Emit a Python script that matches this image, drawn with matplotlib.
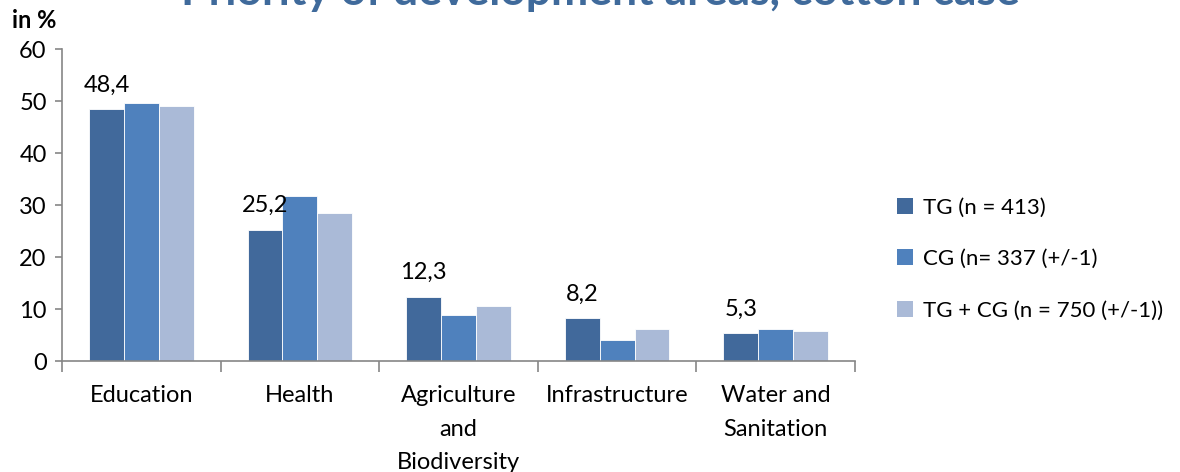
import matplotlib
matplotlib.use("Agg")
import matplotlib.pyplot as plt
import numpy as np
from matplotlib.patches import Patch

plt.rcParams['font.family'] = ['Lato', 'DejaVu Sans']

categories = ["Education", "Health", "Agriculture\nand\nBiodiversity", "Infrastructure", "Water and\nSanitation"]
series_names = ["TG (n = 413)", "CG (n= 337 (+/-1)", "TG + CG (n = 750 (+/-1))"]
tg = [48.4, 25.2, 12.3, 8.2, 5.3]
cg = [49.6, 31.7, 8.8, 4.0, 6.1]
tg_cg = [49.0, 28.5, 10.6, 6.1, 5.8]
tg_labels = ["48,4", "25,2", "12,3", "8,2", "5,3"]
yticks = [0, 10, 20, 30, 40, 50, 60]
colors = ["#41699B", "#4F81BD", "#AABAD7"]

fig = plt.figure(figsize=(11.8, 4.72), dpi=100)
ax = fig.add_axes([62/1180, 1-361/472, (855-62)/1180, (361-49)/472])

x = np.arange(len(categories))
w = 0.22
for i, (vals, c) in enumerate(zip([tg, cg, tg_cg], colors)):
    ax.bar(x + (i-1)*w, vals, w, color=c, edgecolor="white", linewidth=0.6)

for xi, v, lab in zip(x, tg, tg_labels):
    ax.annotate(lab, (xi - w, v), xytext=(0, 10), textcoords="offset points",
                ha="center", va="bottom", fontsize=17)

ax.set_xlim(-0.5, len(categories)-0.5)
ax.set_ylim(0, 60)
ax.set_yticks(yticks)
ax.set_yticklabels([str(t) for t in yticks], fontsize=17)
ax.set_xticks(x)
ax.set_xticklabels(categories, fontsize=17, linespacing=1.72, va="top")
ax.set_xticks(np.arange(len(categories)+1) - 0.5, minor=True)
ax.tick_params(axis="x", which="major", length=0, pad=17.5)
ax.tick_params(axis="x", which="minor", length=8, color="#868686", width=1.2)
ax.tick_params(axis="y", length=5, color="#868686", width=1.2, pad=6)
for s in ["top", "right"]:
    ax.spines[s].set_visible(False)
for s in ["left", "bottom"]:
    ax.spines[s].set_color("#868686")
    ax.spines[s].set_linewidth(1.2)

fig.text(12/1180, 1-20/472, "in %", fontsize=17, fontweight="bold", va="center", ha="left")
fig.text(600/1180, 1-5/472, "Priority of development areas, cotton case", fontsize=32,
         fontweight="bold", color="#3F6A9B", ha="center", va="baseline")

handles = [Patch(facecolor=c, edgecolor="none") for c in colors]
leg = fig.legend(handles, series_names, loc="center left", bbox_to_anchor=(890/1180, 1-259/472),
                 frameon=False, fontsize=16, handlelength=0.75, handleheight=0.75,
                 handletextpad=0.45, labelspacing=1.42, borderaxespad=0, borderpad=0.3)

fig.savefig("out.png", dpi=100)
